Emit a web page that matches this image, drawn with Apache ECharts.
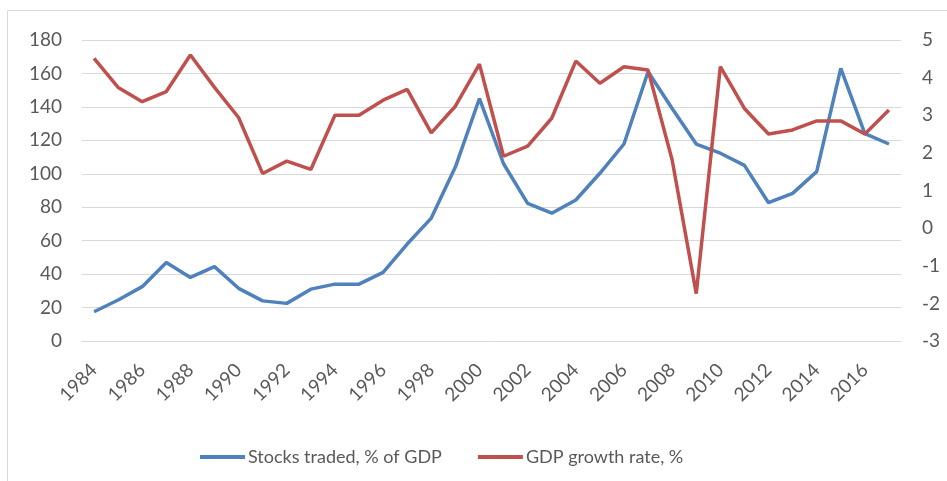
<!DOCTYPE html>
<html>
<head>
<meta charset="utf-8">
<script src="https://cdn.jsdelivr.net/npm/echarts@6/dist/echarts.min.js"></script>
<style>
html,body{margin:0;padding:0;background:#fff;}
#c{width:947px;height:481px;}
</style>
</head>
<body>
<div id="c"></div>
<script>
const years = ['1984','1985','1986','1987','1988','1989','1990','1991','1992','1993','1994','1995','1996','1997','1998','1999','2000','2001','2002','2003','2004','2005','2006','2007','2008','2009','2010','2011','2012','2013','2014','2015','2016','2017'];
const stocksTraded = [17.5,24.5,32.5,47,38,44.5,31.5,24,22.5,31,34,34,41,58,73.5,104,145,106,82.3,76.4,84.3,100.3,117.8,161,139,117.8,112.3,105,82.7,88.3,101.3,163,124,117.8];
const gdpGrowth = [4.51,3.74,3.36,3.63,4.6,3.74,2.94,1.45,1.78,1.56,3.0,3.0,3.4,3.69,2.53,3.24,4.36,1.91,2.18,2.92,4.44,3.85,4.29,4.2,1.81,-1.74,4.29,3.18,2.5,2.61,2.85,2.85,2.5,3.14];
const seriesNames = ['Stocks traded, % of GDP','GDP growth rate, %'];

const FONT = 'Lato';
const chart = echarts.init(document.getElementById('c'), null, {renderer:'canvas'});
chart.setOption({
  animation:false,
  backgroundColor:'#fff',
  graphic:[{type:'rect',shape:{x:7.5,y:10.5,width:1000,height:1000},style:{fill:'none',stroke:'#d9d9d9',lineWidth:1}}],
  grid:{left:82,right:46,top:40,bottom:140,containLabel:false,outerBoundsMode:'none'},
  legend:{
    data:seriesNames,
    top:443,
    left:195,
    itemWidth:45,itemHeight:4,itemGap:36,
    icon:'rect',
    textStyle:{fontFamily:FONT,fontSize:18,color:'#595959',padding:[0,0,0,-2]}
  },
  xAxis:{
    type:'category',
    data:years,
    boundaryGap:true,
    axisLine:{lineStyle:{color:'#d9d9d9'}},
    axisTick:{show:false},
    axisLabel:{interval:1,rotate:45,fontFamily:FONT,fontSize:19,color:'#595959',margin:26}
  },
  yAxis:[{
    type:'value',min:0,max:180,interval:20,
    axisLine:{show:false},axisTick:{show:false},
    splitLine:{lineStyle:{color:'#d9d9d9'}},
    axisLabel:{fontFamily:FONT,fontSize:19,color:'#595959',margin:20}
  },{
    type:'value',min:-3,max:5,interval:1,
    axisLine:{show:false},axisTick:{show:false},
    splitLine:{show:false},
    axisLabel:{fontFamily:FONT,fontSize:19,color:'#595959',margin:21}
  }],
  series:[{
    name:seriesNames[0],type:'line',yAxisIndex:0,data:stocksTraded,
    symbol:'none',color:'#4F81BD',lineStyle:{width:3.5,color:'#4F81BD'}
  },{
    name:seriesNames[1],type:'line',yAxisIndex:1,data:gdpGrowth,
    symbol:'none',color:'#C0504D',lineStyle:{width:3.5,color:'#C0504D'}
  }]
});
</script>
</body>
</html>
